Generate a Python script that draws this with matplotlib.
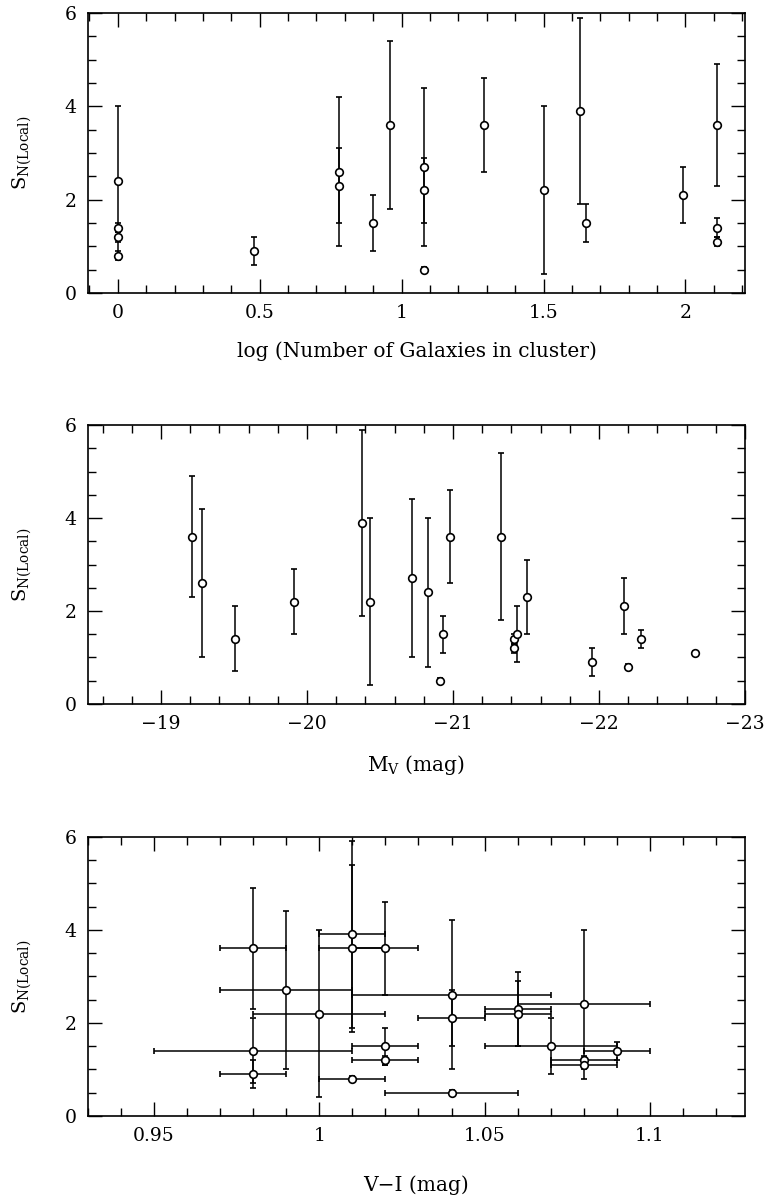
import numpy as np
import matplotlib
matplotlib.use("Agg")
import matplotlib.pyplot as plt
from matplotlib.ticker import MultipleLocator, FuncFormatter

plt.rcParams['font.family'] = ['DejaVu Serif']
plt.rcParams['mathtext.fontset'] = 'dejavuserif'

# S_N(Local) against log(N galaxies)
logn = [0.0, 0.0, 0.0, 0.0, 0.48, 0.78, 0.78, 0.90, 0.96, 1.08, 1.08, 1.08,
        1.29, 1.50, 1.63, 1.65, 1.99, 2.11, 2.11, 2.11]
sn_logn = [2.4, 1.4, 1.2, 0.8, 0.9, 2.6, 2.3, 1.5, 3.6, 2.7, 2.2, 0.5,
           3.6, 2.2, 3.9, 1.5, 2.1, 3.6, 1.4, 1.1]
sn_logn_err = [1.6, 0.1, 0.1, 0.1, 0.3, 1.6, 0.8, 0.6, 1.8, 1.7, 0.7, 0.05,
               1.0, 1.8, 2.0, 0.4, 0.6, 1.3, 0.2, 0.1]

# S_N(Local) against M_V
mv = [-19.21, -19.28, -19.51, -19.91, -20.38, -20.43, -20.72, -20.83, -20.91,
      -20.93, -20.98, -21.33, -21.42, -21.42, -21.44, -21.51, -21.95, -22.17,
      -22.20, -22.29, -22.66]
sn_mv = [3.6, 2.6, 1.4, 2.2, 3.9, 2.2, 2.7, 2.4, 0.5, 1.5, 3.6, 3.6, 1.4, 1.2,
         1.5, 2.3, 0.9, 2.1, 0.8, 1.4, 1.1]
sn_mv_err = [1.3, 1.6, 0.7, 0.7, 2.0, 1.8, 1.7, 1.6, 0.05, 0.4, 1.0, 1.8, 0.1,
             0.1, 0.6, 0.8, 0.3, 0.6, 0.05, 0.2, 0.05]

# S_N(Local) against V-I colour
vi = [0.98, 0.98, 0.98, 0.99, 1.00, 1.01, 1.01, 1.01, 1.02, 1.02, 1.02, 1.04,
      1.04, 1.04, 1.06, 1.06, 1.07, 1.08, 1.08, 1.08, 1.09]
vi_err = [0.01, 0.03, 0.01, 0.02, 0.02, 0.01, 0.01, 0.01, 0.01, 0.01, 0.01,
          0.02, 0.03, 0.01, 0.01, 0.01, 0.02, 0.02, 0.01, 0.01, 0.01]
sn_vi = [3.6, 1.4, 0.9, 2.7, 2.2, 3.9, 3.6, 0.8, 3.6, 1.5, 1.2, 0.5, 2.6, 2.1,
         2.3, 2.2, 1.5, 2.4, 1.2, 1.1, 1.4]
sn_vi_err = [1.3, 0.7, 0.3, 1.7, 1.8, 2.0, 1.8, 0.05, 1.0, 0.4, 0.1, 0.05, 1.6,
             0.6, 0.8, 0.7, 0.6, 1.6, 0.1, 0.1, 0.2]

fig = plt.figure(figsize=(7.73, 12.03), dpi=100)

fmt = FuncFormatter(lambda v, p: ('%g' % v).replace('-', '\u2212'))


def style(ax, xmaj, xmin):
    ax.set_ylim(0, 6)
    ax.yaxis.set_major_locator(MultipleLocator(2))
    ax.yaxis.set_minor_locator(MultipleLocator(0.5))
    ax.xaxis.set_major_locator(MultipleLocator(xmaj))
    ax.xaxis.set_minor_locator(MultipleLocator(xmin))
    ax.xaxis.set_major_formatter(fmt)
    ax.tick_params(which='both', direction='in', top=True, right=True,
                   width=1.0, labelsize=13.5, pad=8)
    ax.tick_params(which='major', length=10)
    ax.tick_params(which='minor', length=5.5)
    for s in ax.spines.values():
        s.set_linewidth(1.2)
    ax.set_ylabel(r'S$_{\rm N(Local)}$', fontsize=14, labelpad=22)


ebkw = dict(fmt='o', mfc='white', mec='black', ms=5.5, mew=1.2, ecolor='black',
            elinewidth=1.1, capsize=2.2, capthick=1.1, color='black')

ax1 = fig.add_axes([0.1138, 0.7564, 0.850, 0.2328])
ax1.errorbar(logn, sn_logn, yerr=sn_logn_err, **ebkw)
ax1.set_xlim(-0.105, 2.21)
style(ax1, 0.5, 0.1)
ax1.set_xlabel('log (Number of Galaxies in cluster)', fontsize=14.5, labelpad=14)

ax2 = fig.add_axes([0.1138, 0.4148, 0.850, 0.2319])
ax2.errorbar(mv, sn_mv, yerr=sn_mv_err, **ebkw)
ax2.set_xlim(-18.5, -23)
style(ax2, 1, 0.2)
ax2.set_xlabel(r'M$_{\rm V}$ (mag)', fontsize=14.5, labelpad=14)

ax3 = fig.add_axes([0.1138, 0.0723, 0.850, 0.2322])
ax3.errorbar(vi, sn_vi, xerr=vi_err, yerr=sn_vi_err, **ebkw)
ax3.set_xlim(0.93, 1.1288)
style(ax3, 0.05, 0.01)
ax3.set_xlabel('V\u2212I (mag)', fontsize=14.5, labelpad=22)

fig.savefig('out.png', dpi=100)
